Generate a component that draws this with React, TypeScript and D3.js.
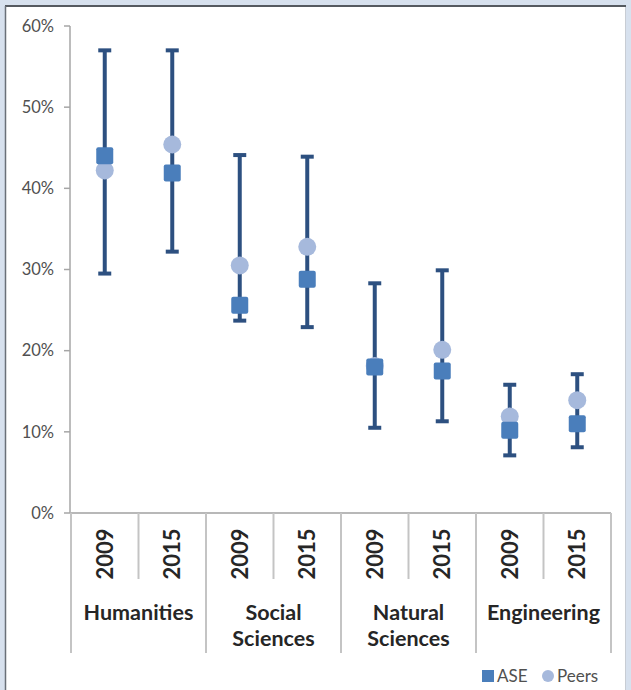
import React from 'react';
import * as d3 from 'd3';

// values (percent)
const groups = ['Humanities', 'Social Sciences', 'Natural Sciences', 'Engineering'];
const groupLines = [['Humanities'], ['Social', 'Sciences'], ['Natural', 'Sciences'], ['Engineering']];
const years = ['2009', '2015'];
const aseValues = [44.0, 41.9, 25.6, 28.8, 18.0, 17.5, 10.2, 11.0];
const peersValues = [42.2, 45.4, 30.5, 32.8, 18.1, 20.1, 11.9, 13.9];
const highValues = [57.0, 57.0, 44.1, 43.9, 28.3, 29.9, 15.8, 17.1];
const lowValues = [29.5, 32.2, 23.7, 22.9, 10.5, 11.3, 7.1, 8.1];
const yTicks = [0, 10, 20, 30, 40, 50, 60];

const W = 631;
const H = 690;
const font = 'Lato, "Open Sans", sans-serif';

export default function App() {
  const keys = groups.flatMap(g => years.map(y => g + '|' + y));
  const x = d3.scaleBand().domain(keys).range([71, 611]).padding(0);
  const y = d3.scaleLinear().domain([0, 60]).range([513, 26]);
  const fmt = (v: number) => d3.format('.0%')(v / 100);
  const axisY = y(0);
  const bw = x.bandwidth();
  const sq = 17;
  const capW = 13;

  return (
    <svg width={W} height={H} style={{ position: 'absolute', left: 0, top: 0, display: 'block' }}>
      {/* frame */}
      <rect x={0} y={0} width={W} height={H} fill="#d7e1ee" />
      <rect x={5.5} y={6} width={620} height={H} fill="#ffffff" stroke="#c8cdd4" strokeWidth={1} />
      <line x1={5} x2={626} y1={6} y2={6} stroke="#555a60" strokeWidth={2} />
      <line x1={5.5} x2={5.5} y1={6} y2={H} stroke="#6a7078" strokeWidth={1.5} />

      {/* y axis */}
      <line x1={70} x2={70} y1={y(60)} y2={axisY} stroke="#a6a6a6" strokeWidth={1.5} />
      {yTicks.map(t => (
        <g key={t}>
          <line x1={64} x2={70} y1={y(t)} y2={y(t)} stroke="#a6a6a6" strokeWidth={1.5} />
          <text x={54} y={y(t)} dy="0.35em" textAnchor="end" fontFamily={font} fontSize={16.5} fill="#505050">
            {fmt(t)}
          </text>
        </g>
      ))}

      {/* category axis */}
      <line x1={70} x2={611} y1={axisY} y2={axisY} stroke="#b8b8b8" strokeWidth={2} />
      {keys.map((k, i) => {
        const left = x(k) as number;
        const isGroupEdge = i % 2 === 0;
        return (
          <line key={'sep' + k} x1={left} x2={left} y1={axisY} y2={isGroupEdge ? 653 : 579}
            stroke="#c4c4c4" strokeWidth={2} />
        );
      })}
      <line x1={611} x2={611} y1={axisY} y2={653} stroke="#c4c4c4" strokeWidth={2} />
      {keys.map(k => {
        const cx = (x(k) as number) + bw / 2;
        const yr = k.split('|')[1];
        return (
          <text key={'yr' + k} transform={`translate(${cx},554) rotate(-90)`} textAnchor="middle" dy="0.36em"
            fontFamily={font} fontWeight={700} fontSize={22} fill="#262626">
            {yr}
          </text>
        );
      })}
      {groups.map((g, gi) => {
        const cx = (x(g + '|2009') as number) + bw;
        return (
          <text key={g} textAnchor="middle" fontFamily={font} fontWeight={700} fontSize={21.5} fill="#262626">
            {groupLines[gi].map((ln, li) => (
              <tspan key={li} x={cx} y={612 + li * 26} dy="0.36em">{ln}</tspan>
            ))}
          </text>
        );
      })}

      {/* error bars */}
      {keys.map((k, i) => {
        const cx = (x(k) as number) + bw / 2;
        return (
          <g key={'eb' + k} stroke="#2d5080" strokeWidth={4}>
            <line x1={cx} x2={cx} y1={y(highValues[i])} y2={y(lowValues[i])} />
            <line x1={cx - capW / 2} x2={cx + capW / 2} y1={y(highValues[i])} y2={y(highValues[i])} />
            <line x1={cx - capW / 2} x2={cx + capW / 2} y1={y(lowValues[i])} y2={y(lowValues[i])} />
          </g>
        );
      })}

      {/* peers circles */}
      {keys.map((k, i) => (
        <circle key={'p' + k} cx={(x(k) as number) + bw / 2} cy={y(peersValues[i])} r={9} fill="#a6b9dc" />
      ))}

      {/* ASE squares */}
      {keys.map((k, i) => (
        <rect key={'a' + k} x={(x(k) as number) + bw / 2 - sq / 2} y={y(aseValues[i]) - sq / 2}
          width={sq} height={sq} rx={2} fill="#4a7ebb" />
      ))}

      {/* legend */}
      <rect x={482} y={670} width={12} height={12} fill="#4a7ebb" />
      <text x={497} y={676} dy="0.36em" fontFamily={font} fontSize={17} fill="#505050">ASE</text>
      <circle cx={548} cy={676} r={6} fill="#a6b9dc" />
      <text x={557} y={676} dy="0.36em" fontFamily={font} fontSize={17} fill="#505050">Peers</text>
    </svg>
  );
}
